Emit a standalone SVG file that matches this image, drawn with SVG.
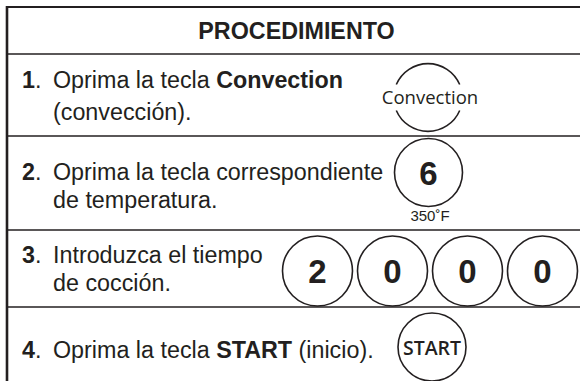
<svg xmlns="http://www.w3.org/2000/svg" width="580" height="381" viewBox="0 0 580 381">
<style>
.t{font-family:"Liberation Sans",Arial,sans-serif;font-size:23.3px;fill:#231f20}
.b{font-weight:bold}
.k{fill:none;stroke:#231f20;stroke-width:1.6}
.d{font-family:"Liberation Sans",Arial,sans-serif;font-size:33px;font-weight:bold;fill:#231f20;text-anchor:middle}
.o{font-family:"Open Sans","Noto Sans",sans-serif;fill:#231f20;text-anchor:middle}
.rule{stroke:#231f20;stroke-width:1.5}
</style>
<rect width="580" height="381" fill="#fff"/>
<g id="table">
<line x1="7" y1="7" x2="580" y2="7" stroke="#231f20" stroke-width="2.2"/>
<line x1="7" y1="6" x2="7" y2="381" stroke="#231f20" stroke-width="2.6"/>
<line class="rule" x1="7" y1="54" x2="580" y2="54"/>
<line class="rule" x1="7" y1="136" x2="580" y2="136"/>
<line class="rule" x1="7" y1="230" x2="580" y2="230"/>
<line class="rule" x1="7" y1="307" x2="580" y2="307"/>
<text class="t b" x="296.5" y="38.5" text-anchor="middle">PROCEDIMIENTO</text>
</g>
<g id="step1">
<text class="t" x="22" y="88"><tspan class="b">1</tspan>.<tspan x="53">Oprima la tecla </tspan><tspan class="b">Convection</tspan></text>
<text class="t" x="53" y="120">(convección).</text>
<path class="k" d="M396.3,84.5 A34.5,34.5 0 0 1 459.7,84.5"/>
<path class="k" d="M396.3,110.5 A34.5,34.5 0 0 0 459.7,110.5"/>
<text class="o" x="430" y="104" font-size="18.5">Convection</text>
</g>
<g id="step2">
<text class="t" x="22" y="180"><tspan class="b">2</tspan>.<tspan x="53">Oprima la tecla correspondiente</tspan></text>
<text class="t" x="53" y="208">de temperatura.</text>
<circle class="k" cx="428.5" cy="172.5" r="34"/>
<text class="d" x="428.5" y="185">6</text>
<text x="430" y="221" font-family="Liberation Sans,Arial,sans-serif" font-size="15" fill="#231f20" text-anchor="middle">350˚F</text>
</g>
<g id="step3">
<text class="t" x="22" y="263"><tspan class="b">3</tspan>.<tspan x="53">Introduzca el tiempo</tspan></text>
<text class="t" x="53" y="291">de cocción.</text>
<circle class="k" cx="317.5" cy="271" r="35"/>
<circle class="k" cx="392.5" cy="271" r="35"/>
<circle class="k" cx="467.5" cy="271" r="35"/>
<circle class="k" cx="542.5" cy="271" r="35"/>
<text class="d" x="317.5" y="283">2</text>
<text class="d" x="392.5" y="283">0</text>
<text class="d" x="467.5" y="283">0</text>
<text class="d" x="542.5" y="283">0</text>
</g>
<g id="step4">
<text class="t" x="22" y="358"><tspan class="b">4</tspan>.<tspan x="53">Oprima la tecla </tspan><tspan class="b">START</tspan> (inicio).</text>
<circle class="k" cx="432" cy="347" r="34"/>
<text class="o" x="432" y="355" font-size="19.5" font-weight="600">START</text>
</g>
</svg>
